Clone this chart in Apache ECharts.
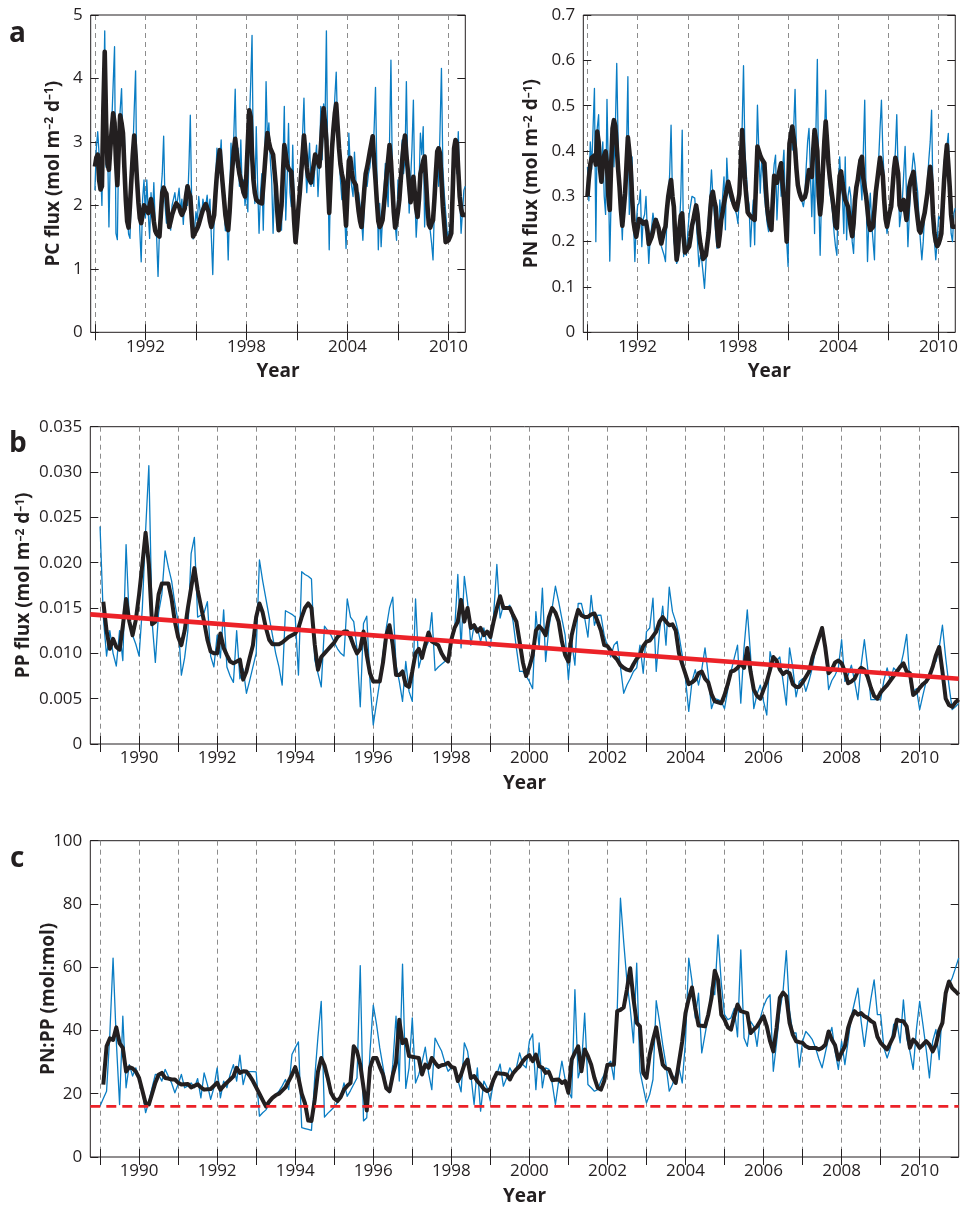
<!DOCTYPE html>
<html>
<head>
<meta charset="utf-8">
<script src="https://cdn.jsdelivr.net/npm/echarts@6/dist/echarts.min.js"></script>
<style>
  html, body { margin: 0; padding: 0; background: #fff; }
  #chart { width: 961px; height: 1207px; }
</style>
</head>
<body>
<div id="chart"></div>
<script>
// monthly samples, first one is Jan 1989, one row per year
const startYear = 1989
const xMin = 1988.75
const xMax = 2011

// panel a (left): particulate carbon flux
const pcRaw = [
  2.24, 2.9, 3.16, 2.8, 2.6, 2.0, 3.4, 4.75, 2.6, 3.0, 1.66, 2.8,
  3.3, 3.9, 4.5, 1.56, 1.46, 3.0, 3.5, 3.84, 2.9, 3.1, 2.2, 1.9,
  1.55, 1.48, 2.3, 2.8, 3.5, 4.12, 2.09, 2.4, 1.6, 1.11, 2.1, 2.4,
  1.8, 2.4, 1.9, 1.48, 2.2, 1.8, 2.36, 1.7, 1.5, 0.88, 1.6, 2.2,
  2.5, 3.09, 2.0, 1.72, 2.1, 1.8, 1.61, 2.0, 1.98, 2.2, 2.0, 2.1,
  2.27, 1.9, 2.1, 1.7, 2.1, 2.3, 2.0, 2.6, 3.42, 2.0, 1.47, 1.6,
  1.9, 1.75, 2.14, 1.9, 1.8, 2.1, 1.95, 2.0, 2.16, 1.88, 2.1, 1.5,
  0.91, 1.8, 2.4, 2.9, 2.5, 2.7, 3.03, 2.3, 2.0, 1.6, 1.9, 1.14,
  2.0, 2.98, 2.5, 3.1, 3.83, 2.6, 2.9, 2.3, 3.03, 2.2, 2.4, 2.0,
  2.3, 1.9, 3.2, 3.9, 4.68, 2.5, 2.03, 3.24, 2.3, 1.56, 2.2, 2.5,
  1.61, 2.6, 3.95, 3.0, 3.3, 2.72, 2.4, 1.56, 2.3, 2.5, 2.0, 1.7,
  1.9, 1.61, 2.6, 3.56, 1.77, 2.4, 3.29, 2.2, 1.98, 2.95, 2.0, 1.6,
  1.45, 1.9, 2.3, 2.6, 3.1, 3.69, 2.7, 2.2, 2.6, 2.98, 2.3, 2.5,
  2.3, 2.7, 2.95, 2.14, 2.6, 3.56, 2.72, 3.6, 3.3, 4.75, 2.6, 1.3,
  2.4, 2.9, 3.24, 3.7, 4.1, 3.2, 2.8, 2.4, 2.09, 2.5, 1.9, 1.32,
  2.0, 3.14, 2.6, 2.3, 2.14, 2.84, 2.4, 1.98, 2.2, 2.19, 1.8, 1.45,
  2.0, 2.45, 2.3, 2.5, 2.6, 2.9, 2.72, 3.2, 3.86, 2.5, 1.3, 2.03,
  1.35, 1.8, 2.2, 2.66, 2.3, 1.98, 3.0, 4.29, 2.5, 1.88, 1.7, 1.45,
  2.4, 2.1, 2.6, 3.03, 2.5, 2.72, 3.95, 2.6, 1.88, 2.4, 2.9, 3.66,
  2.2, 1.5, 1.9, 2.3, 3.14, 2.8, 3.24, 1.66, 2.2, 2.0, 1.88, 1.6,
  1.4, 1.14, 2.0, 2.72, 2.9, 2.3, 3.2, 4.16, 2.6, 2.19, 1.9, 1.6,
  1.45, 1.7, 1.56, 2.3, 2.7, 3.03, 2.5, 3.16, 2.2, 1.56, 1.9, 2.24,
  2.3
]
const pcSmooth = [
  2.61, 2.75, 2.8, 2.4, 2.25, 2.3, 3.5, 4.42, 3.3, 2.65, 2.56, 2.9,
  3.2, 3.45, 3.3, 2.7, 2.32, 2.9, 3.42, 3.3, 3.14, 2.6, 2.1, 1.75,
  1.65, 2.0, 2.4, 2.8, 3.1, 2.8, 2.4, 2.05, 1.8, 1.72, 1.85, 2.0,
  1.97, 1.92, 1.88, 2.0, 2.1, 1.95, 1.75, 1.6, 1.55, 1.53, 1.51, 1.85,
  2.2, 2.28, 2.22, 2.18, 1.9, 1.66, 1.75, 1.85, 1.92, 1.98, 2.03, 2.06,
  1.98, 1.9, 1.85, 1.82, 1.95, 2.15, 2.3, 2.2, 2.14, 1.8, 1.51, 1.56,
  1.6, 1.64, 1.7, 1.78, 1.86, 1.93, 1.98, 2.02, 2.05, 1.9, 1.75, 1.66,
  1.75, 1.85, 2.2, 2.5, 2.7, 2.87, 2.6, 2.35, 2.1, 1.85, 1.7, 1.61,
  1.9, 2.3, 2.6, 2.85, 3.05, 2.85, 2.65, 2.5, 2.4, 2.3, 2.2, 2.14,
  2.5, 3.0, 3.5, 3.4, 2.8, 2.4, 2.2, 2.09, 2.07, 2.05, 2.04, 2.03,
  2.3, 2.6, 2.9, 3.14, 3.0, 2.9, 2.85, 2.8, 2.77, 2.3, 1.9, 1.61,
  1.8, 2.0, 2.5, 2.95, 2.8, 2.65, 2.58, 2.55, 2.53, 2.2, 1.75, 1.42,
  1.65, 1.95, 2.19, 2.5, 2.8, 3.1, 2.85, 2.6, 2.45, 2.4, 2.36, 2.5,
  2.65, 2.8, 2.75, 2.68, 2.61, 2.9, 3.25, 3.53, 3.3, 3.03, 2.4, 1.88,
  2.4, 2.9, 3.2, 3.45, 3.6, 3.25, 2.9, 2.65, 2.5, 2.4, 2.0, 1.68,
  2.2, 2.7, 2.75, 2.55, 2.4, 2.36, 2.32, 2.1, 1.9, 1.75, 1.66, 1.95,
  2.25, 2.5, 2.6, 2.72, 2.85, 2.97, 3.09, 2.7, 2.4, 2.05, 1.75, 1.66,
  1.7, 1.77, 2.0, 2.25, 2.5, 2.72, 2.95, 2.7, 2.3, 1.9, 1.65, 1.75,
  1.9, 2.09, 2.4, 2.7, 2.95, 3.1, 2.8, 2.56, 2.3, 2.05, 2.2, 2.45,
  2.2, 1.95, 1.82, 2.1, 2.5, 2.6, 2.7, 2.77, 2.4, 2.0, 1.7, 1.65,
  1.72, 1.77, 2.1, 2.5, 2.85, 2.9, 2.82, 2.4, 1.98, 1.7, 1.42, 1.4,
  1.45, 1.5, 1.56, 2.2, 2.9, 3.03, 2.98, 2.55, 2.14, 1.95, 1.85, 1.85,
  1.85
]

// panel a (right): particulate nitrogen flux
const pnRaw = [
  .365, .29, .42, .36, .45, .538, .2, .45, .48, .336, .38, .42,
  .3, .26, .514, .35, .157, .3, .468, .365, .45, .593, .42, .3,
  .28, .204, .3, .33, .4, .564, .26, .32, .387, .25, .156, .24,
  .28, .285, .314, .189, .25, .26, .3, .22, .152, .21, .23, .263,
  .24, .233, .25, .22, .204, .19, .18, .17, .156, .25, .292, .35,
  .457, .3, .204, .18, .152, .16, .23, .3, .446, .167, .2, .17,
  .22, .26, .28, .3, .3, .296, .25, .2, .145, .17, .16, .13,
  .097, .15, .218, .26, .3, .358, .3, .263, .22, .185, .22, .292,
  .25, .3, .343, .226, .384, .32, .3, .29, .292, .28, .277, .26,
  .24, .3, .402, .45, .588, .4, .351, .3, .281, .189, .25, .292,
  .193, .35, .501, .4, .307, .38, .35, .3, .27, .24, .222, .226,
  .26, .33, .37, .391, .248, .32, .373, .3, .36, .402, .285, .2,
  .145, .424, .454, .402, .45, .536, .4, .314, .321, .3, .296, .277,
  .3, .365, .42, .45, .45, .255, .36, .218, .45, .602, .3, .17,
  .3, .351, .42, .534, .4, .35, .307, .29, .263, .22, .19, .17,
  .3, .387, .33, .3, .218, .387, .204, .3, .321, .3, .2, .174,
  .26, .321, .35, .38, .34, .292, .399, .512, .3, .156, .25, .307,
  .24, .2, .16, .321, .35, .38, .45, .512, .4, .336, .25, .218,
  .24, .263, .3, .329, .35, .4, .48, .35, .233, .26, .292, .35,
  .41, .3, .189, .26, .321, .36, .395, .37, .336, .31, .25, .2,
  .16, .2, .263, .3, .33, .38, .42, .49, .3, .204, .16, .2,
  .255, .25, .27, .292, .373, .4, .41, .439, .3, .218, .2, .263,
  .274
]
const pnSmooth = [
  .30, .34, .37, .385, .388, .39, .37, .443, .42, .36, .332, .37,
  .39, .399, .37, .30, .27, .37, .45, .468, .455, .41, .36, .321,
  .27, .235, .27, .307, .37, .43, .40, .365, .30, .245, .225, .211,
  .23, .25, .25, .245, .24, .242, .244, .225, .195, .195, .21, .222,
  .238, .248, .251, .23, .21, .196, .21, .225, .233, .27, .30, .32,
  .336, .30, .277, .21, .16, .18, .23, .257, .262, .21, .176, .18,
  .185, .19, .21, .235, .248, .265, .28, .26, .22, .196, .18, .162,
  .165, .17, .174, .22, .263, .30, .31, .29, .277, .23, .19, .215,
  .248, .265, .285, .30, .315, .332, .32, .307, .295, .283, .275, .27,
  .285, .305, .37, .446, .39, .336, .30, .265, .26, .256, .253, .25,
  .248, .33, .41, .40, .39, .383, .378, .373, .32, .275, .25, .235,
  .226, .29, .345, .34, .33, .345, .36, .373, .33, .295, .25, .20,
  .32, .417, .435, .454, .43, .405, .36, .325, .31, .30, .293, .295,
  .298, .31, .335, .358, .35, .343, .40, .446, .425, .40, .30, .26,
  .29, .36, .42, .465, .42, .37, .34, .315, .292, .265, .235, .23,
  .29, .345, .355, .33, .31, .292, .285, .277, .255, .23, .212, .24,
  .29, .32, .336, .36, .38, .387, .34, .32, .30, .27, .24, .226,
  .23, .233, .27, .31, .335, .36, .385, .365, .345, .29, .25, .233,
  .25, .265, .277, .32, .36, .385, .37, .35, .28, .27, .28, .292,
  .27, .248, .28, .32, .335, .345, .354, .31, .277, .25, .225, .22,
  .235, .25, .263, .285, .307, .34, .365, .33, .26, .22, .20, .19,
  .195, .205, .218, .28, .336, .38, .413, .37, .321, .26, .233, .233,
  .233
]

// panel b: particulate phosphorus flux
const ppRaw = [
  .0240, .0140, .0097, .0125, .0100, .0086, .0125, .0092, .0220, .0135, .0120, .0110,
  .0097, .0150, .0235, .0307, .0135, .0090, .0145, .0165, .0213, .0195, .0180, .0155,
  .0135, .0076, .0095, .0125, .0210, .0228, .0140, .0142, .0145, .0157, .0097, .0085,
  .0120, .0095, .0148, .0085, .0075, .0068, .0125, .0072, .0083, .0056, .0070, .0085,
  .0100, .0203, .0180, .0160, .0140, .0120, .0100, .0085, .0065, .0147, .0145, .0143,
  .0140, .0076, .0190, .0187, .0185, .0182, .0093, .0078, .0063, .0130, .0125, .0120,
  .0112, .0105, .0100, .0097, .0160, .0140, .0135, .0105, .0041, .0133, .0141, .0069,
  .0021, .0045, .0069, .0100, .0128, .0150, .0162, .0087, .0069, .0047, .0091, .0058,
  .0047, .0160, .0084, .0098, .0105, .0113, .0145, .0081, .0085, .0088, .0091, .0093,
  .0115, .0124, .0187, .0106, .0185, .0156, .0109, .0131, .0128, .0113, .0128, .0109,
  .0107, .0142, .0198, .0139, .0153, .0150, .0153, .0135, .0106, .0080, .0080, .0075,
  .0069, .0061, .0146, .0106, .0172, .0091, .0128, .0150, .0174, .0157, .0138, .0120,
  .0071, .0113, .0087, .0155, .0155, .0139, .0118, .0164, .0131, .0142, .0142, .0120,
  .0108, .0096, .0109, .0113, .0085, .0056, .0065, .0072, .0080, .0084, .0109, .0078,
  .0124, .0128, .0161, .0080, .0124, .0152, .0109, .0173, .0146, .0135, .0120, .0098,
  .0072, .0036, .0069, .0082, .0065, .0082, .0106, .0076, .0039, .0050, .0049, .0047,
  .0039, .0060, .0080, .0095, .0109, .0045, .0106, .0148, .0098, .0039, .0055, .0065,
  .0047, .0032, .0102, .0087, .0092, .0096, .0069, .0043, .0106, .0084, .0052, .0069,
  .0072, .0058, .0070, .0084, .0106, .0118, .0128, .0106, .0060, .0070, .0076, .0084,
  .0115, .0069, .0076, .0087, .0069, .0049, .0087, .0115, .0084, .0049, .0049, .0049,
  .0049, .0070, .0084, .0069, .0084, .0080, .0084, .0100, .0121, .0069, .0058, .0061,
  .0038, .0054, .0069, .0072, .0087, .0091, .0106, .0131, .0095, .0065, .0038, .0041,
  .0045
]
const ppSmooth = [
  null, .0157, .0125, .0105, .0116, .0107, .0104, .0130, .0160, .0135, .0120, .0137,
  .0165, .0198, .0233, .0198, .0132, .0135, .0165, .0177, .0177, .0177, .0160, .0135,
  .0118, .0109, .0125, .0150, .0172, .0194, .0170, .0152, .0135, .0115, .0102, .0100,
  .0100, .0122, .0106, .0098, .0091, .0089, .0091, .0093, .0071, .0080, .0095, .0109,
  .0140, .0155, .0145, .0128, .0115, .0110, .0110, .0110, .0112, .0115, .0118, .0120,
  .0122, .0128, .0140, .0150, .0155, .0150, .0110, .0082, .0096, .0100, .0104, .0108,
  .0112, .0118, .0121, .0124, .0124, .0118, .0108, .0100, .0105, .0124, .0098, .0078,
  .0069, .0069, .0069, .0090, .0120, .0131, .0109, .0076, .0076, .0080, .0065, .0063,
  .0080, .0100, .0105, .0095, .0110, .0123, .0113, .0111, .0109, .0100, .0094, .0091,
  .0115, .0128, .0135, .0159, .0135, .0150, .0128, .0131, .0124, .0128, .0120, .0124,
  .0118, .0135, .0150, .0163, .0150, .0150, .0150, .0142, .0135, .0113, .0090, .0075,
  .0085, .0098, .0125, .0130, .0126, .0120, .0140, .0150, .0145, .0135, .0113, .0098,
  .0091, .0120, .0135, .0148, .0142, .0140, .0140, .0143, .0144, .0135, .0125, .0109,
  .0108, .0103, .0097, .0093, .0087, .0084, .0082, .0081, .0088, .0094, .0098, .0108,
  .0113, .0114, .0119, .0124, .0135, .0140, .0135, .0131, .0132, .0125, .0100, .0088,
  .0077, .0066, .0068, .0071, .0078, .0080, .0072, .0068, .0055, .0047, .0046, .0045,
  .0054, .0066, .0080, .0081, .0084, .0089, .0084, .0106, .0080, .0060, .0053, .0050,
  .0060, .0069, .0082, .0096, .0092, .0082, .0077, .0080, .0078, .0066, .0063, .0063,
  .0068, .0074, .0080, .0095, .0106, .0117, .0128, .0106, .0078, .0082, .0090, .0092,
  .0089, .0080, .0067, .0069, .0072, .0080, .0084, .0082, .0074, .0062, .0053, .0050,
  .0057, .0061, .0065, .0070, .0075, .0080, .0085, .0089, .0080, .0078, .0054, .0057,
  .0062, .0066, .0069, .0075, .0085, .0098, .0107, .0080, .0050, .0043, .0041, .0046,
  .0049
]
// linear trend drawn over panel b
const trendYears = [1988.75, 2011]
const trendValues = [0.0143, 0.0072]

// panel c: PN:PP molar ratio
const ratioRaw = [
  16.1, 18.5, 20.8, 38.7, 62.9, 36.5, 16.6, 44.5, 21.9, 29.2, 25.6, 28.2,
  24.5, 20.8, 14.0, 17.5, 21.9, 26.1, 26.0, 24.0, 27.7, 25.5, 23.4, 20.3,
  23.0, 26.1, 21.9, 22.5, 23.4, 21.9, 24.8, 18.7, 26.6, 22.9, 18.2, 21.9,
  28.2, 18.7, 24.0, 21.9, 26.1, 29.2, 24.0, 32.2, 22.9, 27.1, 27.0, 27.0,
  26.9, 12.9, 14.0, 14.9, 16.8, 18.7, 19.8, 20.8, 22.5, 24.5, 21.3, 32.4,
  34.5, 36.4, 9.3, 9.0, 8.7, 8.4, 25.0, 38.0, 49.2, 12.6, 13.8, 14.8,
  15.8, 17.3, 18.7, 23.4, 19.2, 21.0, 23.0, 25.0, 60.5, 11.4, 12.4, 33.4,
  48.0, 42.0, 34.5, 28.5, 22.4, 20.3, 29.2, 44.5, 24.0, 61.0, 21.7, 28.2,
  44.0, 23.4, 26.1, 30.0, 34.7, 26.6, 21.3, 37.6, 35.5, 33.5, 30.0, 27.1,
  28.2, 28.2, 24.5, 20.6, 36.1, 33.4, 26.1, 16.6, 28.2, 14.5, 24.0, 21.9,
  17.7, 24.0, 26.1, 29.4, 22.4, 25.0, 28.2, 26.1, 28.2, 32.9, 29.2, 28.2,
  36.6, 38.9, 21.3, 36.1, 21.9, 28.2, 27.7, 23.4, 16.6, 24.0, 30.3, 24.5,
  20.8, 18.7, 52.9, 25.0, 28.7, 45.5, 22.9, 21.9, 20.8, 21.3, 24.0, 26.1,
  29.2, 30.3, 24.5, 46.1, 81.8, 68.0, 55.5, 47.1, 36.1, 61.3, 27.1, 22.0,
  17.1, 19.8, 24.5, 49.4, 42.9, 35.5, 29.2, 20.8, 22.9, 26.1, 28.2, 23.4,
  36.6, 62.9, 55.5, 44.0, 51.8, 32.9, 38.7, 44.5, 53.9, 51.3, 70.2, 55.0,
  45.0, 43.4, 44.0, 47.0, 38.0, 65.5, 37.6, 35.0, 42.9, 41.3, 35.0, 44.0,
  47.6, 50.0, 51.3, 27.1, 36.1, 46.1, 52.4, 65.2, 46.1, 39.2, 39.2, 28.4,
  36.6, 39.7, 38.5, 37.1, 34.5, 31.0, 28.2, 33.0, 37.6, 41.0, 33.4, 27.7,
  36.6, 29.2, 36.6, 44.5, 49.0, 53.4, 42.9, 35.0, 42.9, 50.0, 56.0, 45.0,
  45.0, 34.5, 31.3, 34.5, 41.9, 42.9, 36.1, 49.7, 37.6, 33.4, 27.7, 40.3,
  49.2, 41.9, 34.0, 25.0, 36.6, 40.3, 30.8, 47.1, 52.4, 54.5, 56.6, 59.7,
  62.9
]
const ratioSmooth = [
  null, 22.9, 35.0, 37.5, 37.0, 41.0, 36.0, 34.5, 27.0, 28.4, 28.0, 27.0,
  25.0, 21.0, 17.0, 16.6, 20.0, 23.5, 26.0, 26.6, 25.0, 24.8, 24.5, 24.5,
  23.5, 22.9, 23.0, 23.1, 22.0, 22.5, 23.0, 22.0, 21.3, 21.4, 21.5, 22.5,
  23.5, 21.3, 22.5, 23.5, 24.5, 25.5, 28.2, 26.6, 27.1, 27.0, 25.7, 24.0,
  22.0, 20.0, 18.0, 16.0, 17.5, 18.7, 19.5, 20.0, 21.0, 22.0, 24.0, 26.0,
  28.4, 25.0, 20.0, 17.0, 11.5, 11.4, 18.0, 27.0, 31.3, 29.0, 25.0, 20.3,
  18.5, 17.7, 19.0, 21.3, 22.5, 23.4, 35.0, 33.4, 29.2, 22.0, 14.7, 28.2,
  31.3, 31.3, 28.5, 26.1, 21.7, 20.8, 25.9, 29.8, 43.4, 36.0, 37.1, 31.9,
  31.7, 31.5, 31.3, 26.1, 29.2, 28.2, 31.3, 29.8, 28.5, 29.0, 29.2, 29.8,
  28.5, 28.2, 24.0, 26.0, 29.2, 30.8, 25.0, 25.6, 24.0, 22.9, 21.5, 20.8,
  21.5, 24.5, 26.6, 26.4, 26.3, 26.1, 24.5, 26.5, 27.7, 28.7, 30.3, 31.5,
  32.2, 30.3, 32.4, 28.7, 28.2, 26.6, 26.9, 24.3, 24.4, 24.5, 23.4, 24.0,
  20.3, 30.8, 33.0, 35.0, 27.1, 34.0, 31.9, 29.2, 25.0, 21.9, 21.3, 24.0,
  29.2, 29.2, 29.2, 46.1, 46.5, 47.3, 53.0, 59.7, 50.0, 42.4, 41.3, 26.6,
  25.0, 32.4, 37.0, 41.0, 35.0, 29.2, 28.0, 27.7, 25.0, 23.4, 30.0, 36.6,
  45.5, 50.0, 53.6, 47.1, 41.6, 41.5, 41.3, 45.0, 50.3, 58.9, 56.0, 45.0,
  43.4, 41.0, 40.3, 44.5, 48.2, 46.1, 45.8, 45.5, 39.2, 40.3, 41.3, 43.0,
  44.5, 41.3, 36.6, 33.4, 40.8, 50.3, 52.0, 50.8, 42.4, 38.7, 36.6, 36.3,
  36.1, 35.0, 34.5, 34.5, 34.5, 34.0, 34.5, 35.5, 39.7, 37.1, 35.3, 30.8,
  33.0, 35.0, 40.8, 44.0, 46.1, 45.0, 45.5, 44.5, 44.0, 43.0, 42.4, 38.0,
  36.1, 35.0, 34.0, 36.1, 38.2, 43.4, 43.0, 42.9, 41.3, 34.5, 37.1, 36.1,
  34.5, 35.5, 36.6, 35.5, 33.4, 35.5, 40.0, 42.4, 51.8, 55.5, 53.4, 52.4,
  51.3
]
// Redfield ratio reference line
const redfieldYears = [1988.75, 2011]
const redfieldValues = [16, 16]

// year ticks (dashed lines) and labels
const ticksA = [1989, 1992, 1995, 1998, 2001, 2004, 2007, 2010]
const labelsA = [1992, 1998, 2004, 2010]
const ticksBC = [1989, 1990, 1991, 1992, 1993, 1994, 1995, 1996, 1997, 1998, 1999,
  2000, 2001, 2002, 2003, 2004, 2005, 2006, 2007, 2008, 2009, 2010]
const labelsBC = [1990, 1992, 1994, 1996, 1998, 2000, 2002, 2004, 2006, 2008, 2010]

const ink = '#231f20'
const blue = '#0a7dc4'
const red = '#ec2228'
const font = '"Open Sans", "Liberation Sans", sans-serif'

const monthly = vals => vals
  .map((v, i) => [startYear + i / 12, v])
  .filter(d => d[1] != null)
const pairs = (xs, ys) => xs.map((x, i) => [x, ys[i]])

const grids = [
  { left: 90.7, top: 15, width: 374.6, height: 317.3 },
  { left: 583.3, top: 15, width: 375.4, height: 317.3 },
  { left: 90.3, top: 426.7, width: 868.4, height: 317.3 },
  { left: 90.3, top: 840.7, width: 868.4, height: 317 },
].map(g => ({ ...g, show: true, borderColor: ink, borderWidth: 1, backgroundColor: 'transparent' }))

const tickStyle = { inside: true, length: 8, lineStyle: { color: ink, width: 1 } }
const labelFont = { color: ink, fontSize: 17, fontFamily: font }
const nameFont = { color: ink, fontSize: 19, fontWeight: 'bold', fontFamily: font }

function xAxes(g, ticks, labels) {
  const base = { type: 'value', gridIndex: g, min: xMin, max: xMax, axisLine: { show: false } }
  return [
    {
      ...base, position: 'bottom',
      axisTick: { ...tickStyle, customValues: ticks },
      axisLabel: { ...labelFont, customValues: labels, formatter: v => String(v), margin: 6 },
      splitLine: { show: true, lineStyle: { color: '#8c8c8c', width: 1, type: [5, 4] } },
      name: 'Year', nameLocation: 'middle', nameGap: 30, nameTextStyle: nameFont,
      nameMoveOverlap: false,
    },
    {
      ...base, position: 'top',
      axisTick: { ...tickStyle, customValues: ticks },
      axisLabel: { show: false },
      splitLine: { show: false },
    },
  ]
}

function yAxes(g, max, step, fmt, name, gap) {
  const base = {
    type: 'value', gridIndex: g, min: 0, max, interval: step,
    axisLine: { show: false }, splitLine: { show: false },
  }
  return [
    {
      ...base, position: 'left',
      axisTick: tickStyle,
      axisLabel: { ...labelFont, formatter: fmt, margin: 8 },
      name, nameLocation: 'middle', nameGap: gap, nameRotate: 90,
      nameMoveOverlap: false,
      nameTextStyle: {
        ...nameFont,
        rich: { sup: { fontSize: 12, fontWeight: 'bold', fontFamily: font, color: ink, verticalAlign: 'top' } },
      },
    },
    { ...base, position: 'right', axisTick: tickStyle, axisLabel: { show: false } },
  ]
}

const fmtInt = v => String(v)
const fmt1 = v => (v === 0 ? '0' : v.toFixed(1))
const fmt3 = v => (v === 0 ? '0' : v.toFixed(3))

const line = (g, data, color, width, z, type) => ({
  type: 'line', xAxisIndex: 2 * g, yAxisIndex: 2 * g, data,
  showSymbol: false, symbol: 'none', z,
  lineStyle: { color, width, type: type || 'solid', join: 'round' },
  animation: false, silent: true,
})

const chart = echarts.init(document.getElementById('chart'), null, { renderer: 'canvas' })
chart.setOption({
  animation: false,
  backgroundColor: '#fff',
  title: [
    { text: 'a', left: 9, top: 20 },
    { text: 'b', left: 9, top: 430 },
    { text: 'c', left: 10, top: 845 },
  ].map(t => ({ ...t, padding: 0, textStyle: { color: ink, fontSize: 28, fontWeight: 'bold', fontFamily: font } })),
  grid: grids,
  xAxis: [
    ...xAxes(0, ticksA, labelsA),
    ...xAxes(1, ticksA, labelsA),
    ...xAxes(2, ticksBC, labelsBC),
    ...xAxes(3, ticksBC, labelsBC),
  ],
  yAxis: [
    ...yAxes(0, 5, 1, fmtInt, 'PC flux (mol m{sup|–2} d{sup|–1})', 28),
    ...yAxes(1, 0.7, 0.1, fmt1, 'PN flux (mol m{sup|–2} d{sup|–1})', 42),
    ...yAxes(2, 0.035, 0.005, fmt3, 'PP flux (mol m{sup|–2} d{sup|–1})', 57),
    ...yAxes(3, 100, 20, fmtInt, 'PN:PP (mol:mol)', 32),
  ],
  series: [
    line(0, monthly(pcRaw), blue, 1.3, 2),
    line(0, monthly(pcSmooth), ink, 4.6, 3),
    line(1, monthly(pnRaw), blue, 1.3, 2),
    line(1, monthly(pnSmooth), ink, 4.6, 3),
    line(2, monthly(ppRaw), blue, 1.3, 2),
    line(2, monthly(ppSmooth), ink, 4, 3),
    line(2, pairs(trendYears, trendValues), red, 4.6, 4),
    line(3, monthly(ratioRaw), blue, 1.3, 2),
    line(3, monthly(ratioSmooth), ink, 4, 3),
    line(3, pairs(redfieldYears, redfieldValues), red, 2.6, 4, [10, 6]),
  ],
})
</script>
</body>
</html>
